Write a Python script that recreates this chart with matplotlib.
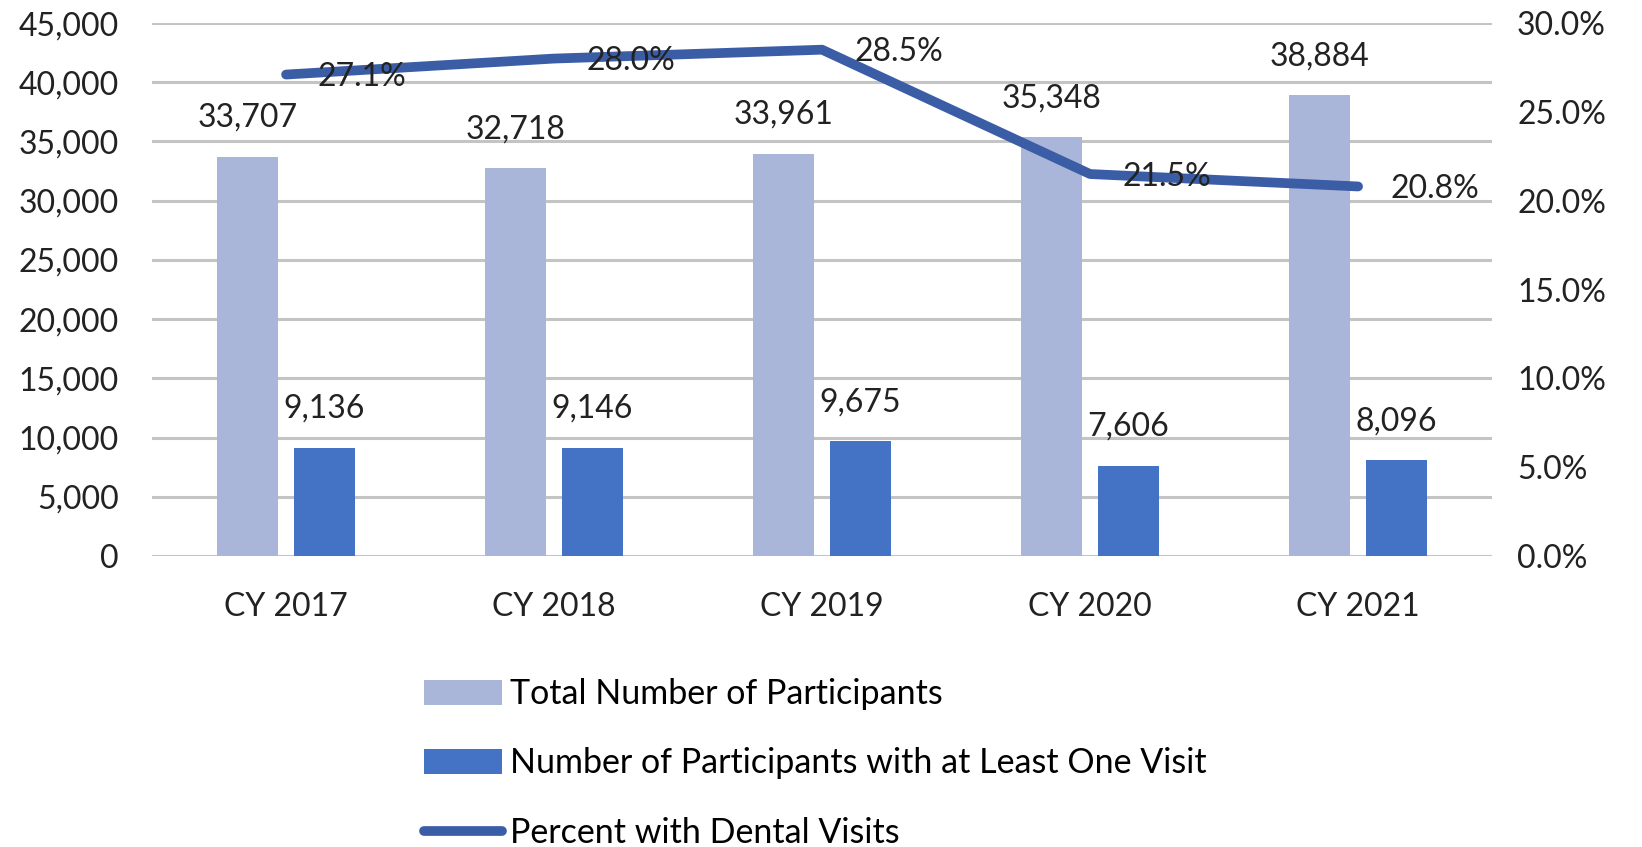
import numpy as np
import matplotlib.pyplot as plt
from matplotlib.ticker import FuncFormatter

plt.rcParams['font.family'] = ['Lato', 'DejaVu Sans']

# 数据
years = ['CY 2017', 'CY 2018', 'CY 2019', 'CY 2020', 'CY 2021']
total_participants = [33707, 32718, 33961, 35348, 38884]
with_visit = [9136, 9146, 9675, 7606, 8096]
percent_visits = [27.1, 28.0, 28.5, 21.5, 20.8]

c_total = '#A9B6DA'
c_visit = '#4472C4'
c_line = '#3A5DA6'
fs = 23

fig = plt.figure(figsize=(16.42, 8.47), dpi=100)
ax = fig.add_axes([0.0926, 0.3436, 0.8161, 0.6292])

x = np.arange(len(years))
w = 0.227
off = 0.143
b1 = ax.bar(x - off, total_participants, w, color=c_total, zorder=2,
            label='Total Number of Participants')
b2 = ax.bar(x + off, with_visit, w, color=c_visit, zorder=2,
            label='Number of Participants with at Least One Visit')

for bars, vals in ((b1, total_participants), (b2, with_visit)):
    for r, v in zip(bars, vals):
        ax.annotate(f'{v:,}', (r.get_x() + r.get_width() / 2, v),
                    xytext=(0, 28), textcoords='offset points',
                    ha='center', va='center', fontsize=fs, color='#222222')

ax.set_xlim(-0.5, len(years) - 0.5)
ax.set_ylim(0, 45000)
ax.set_yticks(np.arange(0, 45001, 5000))
ax.yaxis.set_major_formatter(FuncFormatter(lambda v, p: f'{int(v):,}'))
ax.set_xticks(x)
ax.set_xticklabels(years)
ax.grid(axis='y', color='#C4C4C4', linewidth=2.2, zorder=0)
ax.set_axisbelow(True)
ax.tick_params(axis='y', length=0, pad=24, labelsize=fs, labelcolor='#222222')
ax.tick_params(axis='x', length=0, pad=26, labelsize=fs, labelcolor='#222222')
for s in ax.spines.values():
    s.set_visible(False)

# 第二坐标轴: 百分比折线
ax2 = ax.twinx()
ln, = ax2.plot(x, [p / 100 for p in percent_visits], color=c_line, linewidth=7,
               solid_capstyle='round', solid_joinstyle='round', zorder=3,
               label='Percent with Dental Visits')
for xi, p in zip(x, percent_visits):
    ax2.annotate(f'{p:.1f}%', (xi, p / 100), xytext=(23, -2),
                 textcoords='offset points', ha='left', va='center',
                 fontsize=fs, color='#222222')
ax2.set_ylim(0, 0.30)
ax2.set_yticks(np.arange(0, 0.301, 0.05))
ax2.yaxis.set_major_formatter(FuncFormatter(lambda v, p: f'{v * 100:.1f}%'))
ax2.tick_params(axis='y', length=0, pad=18, labelsize=fs, labelcolor='#222222')
for s in ax2.spines.values():
    s.set_visible(False)

fig.legend(handles=[b1, b2, ln], loc='upper left',
           bbox_to_anchor=(0.258, 0.1995), frameon=False, fontsize=24.5,
           handlelength=2.3, handleheight=0.75, handletextpad=0.25,
           labelspacing=1.1, borderaxespad=0, borderpad=0)

fig.savefig('out.png', dpi=100)
